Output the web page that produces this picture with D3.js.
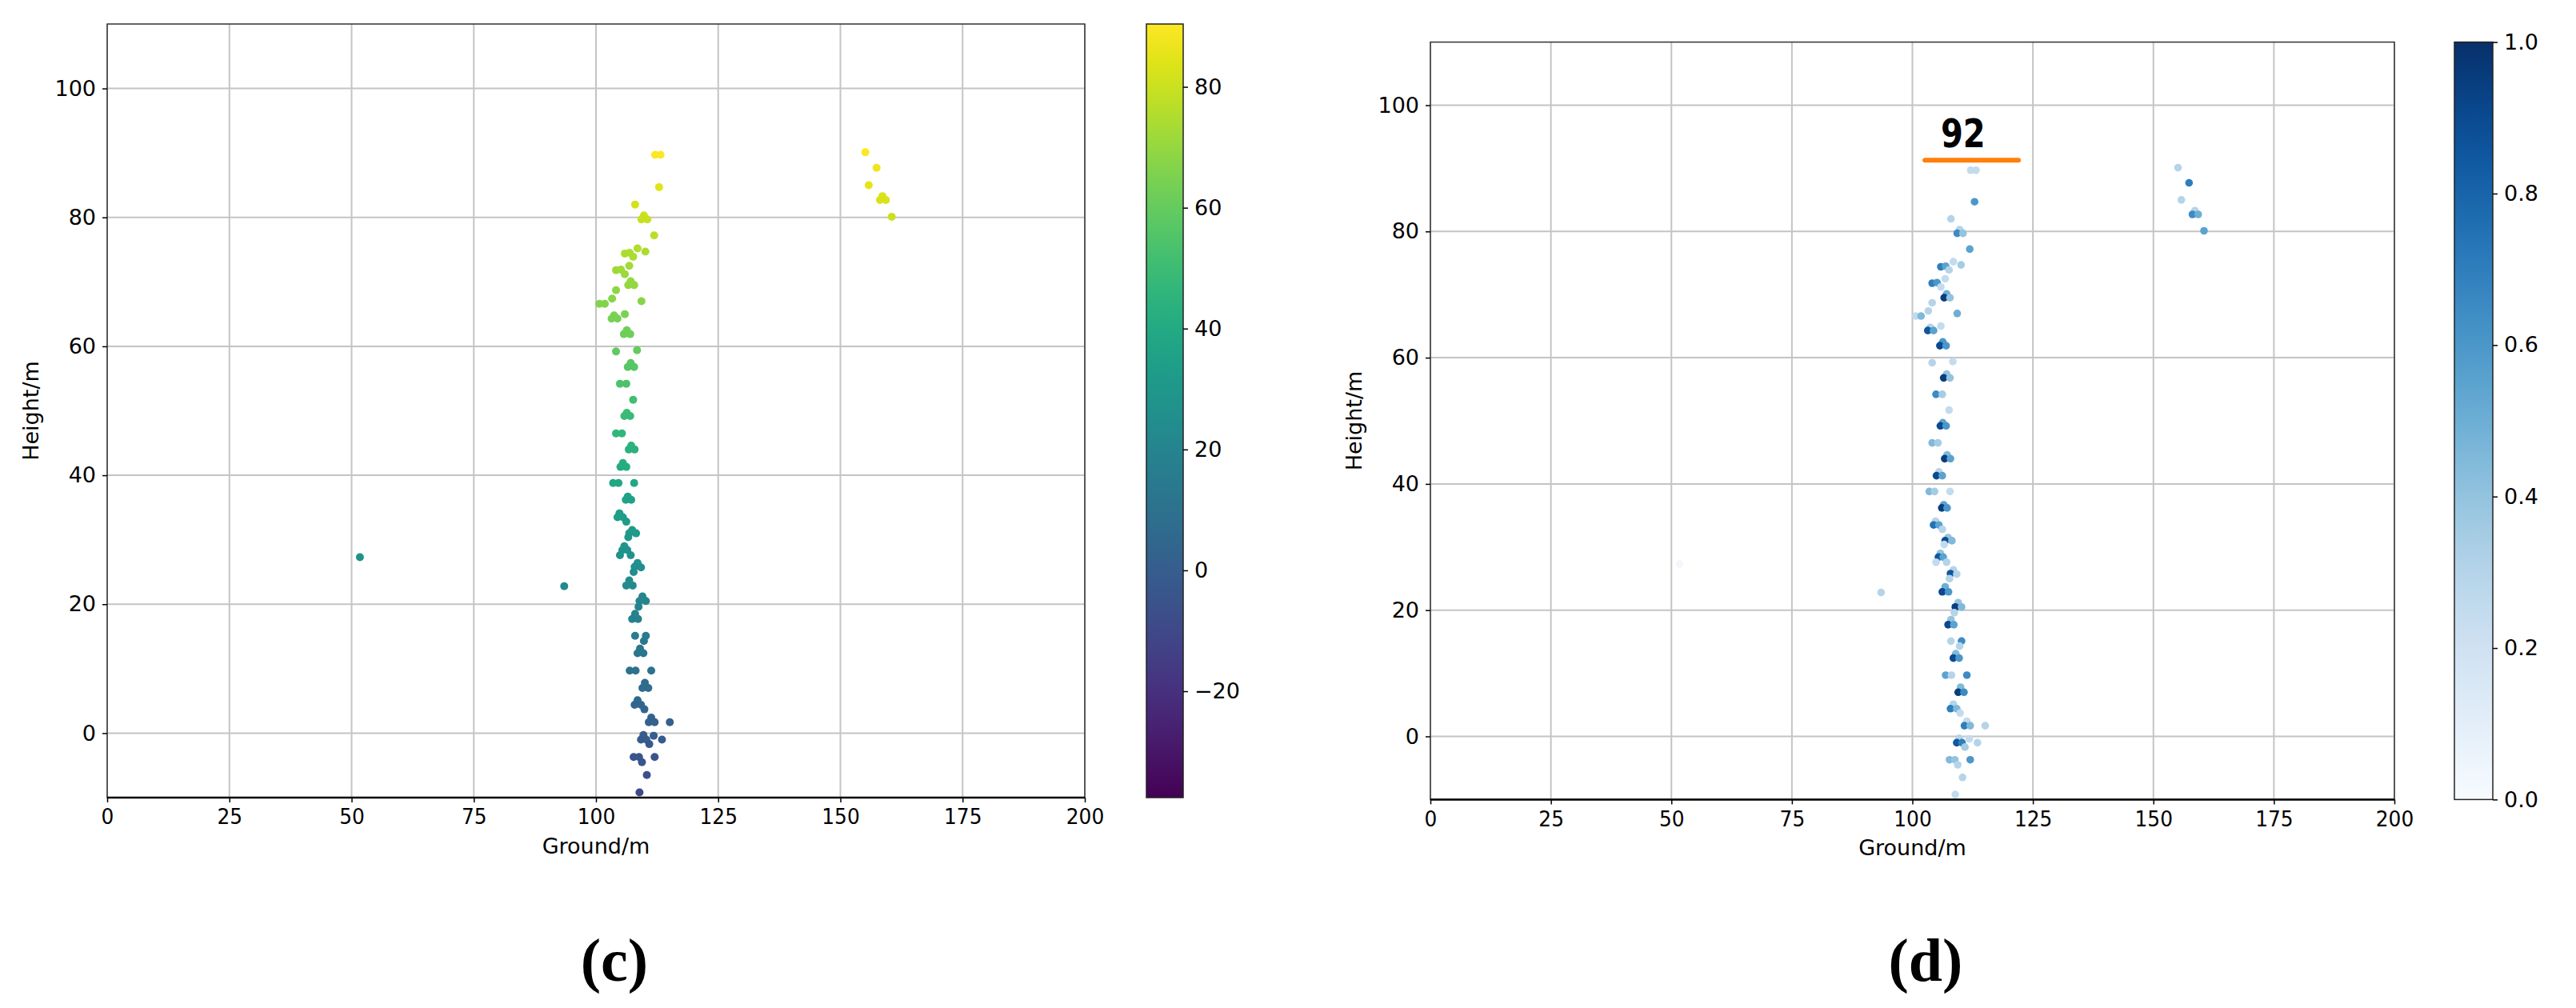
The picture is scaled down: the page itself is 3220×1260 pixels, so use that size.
<!DOCTYPE html>
<html>
<head>
<meta charset="utf-8">
<script src="https://cdn.jsdelivr.net/npm/d3@7"></script>
<style>
html,body{margin:0;padding:0;background:#fff;}
svg{display:block;}
text{fill:#000;}
</style>
</head>
<body>
<svg id="chart" width="3220" height="1260"></svg>
<script>
// ---- data ----
const groundX = [
 112.1,113.2,112.9,108.0,109.8,109.3,110.5,111.9,108.5,110.1,
 105.9,106.9,107.6,106.8,104.1,105.1,105.9,107.1,106.6,107.8,
 104.1,103.3,100.7,101.8,109.3,103.7,103.2,104.4,105.9,106.3,
 105.7,107.0,104.1,108.4,107.1,106.5,107.8,104.9,106.2,107.6,
 106.3,105.8,107.0,104.1,105.3,107.2,106.7,107.9,105.5,105.0,
 106.2,103.5,104.6,107.8,106.5,106.1,107.2,104.8,104.4,105.5,
 106.2,107.4,106.8,108.2,106.6,105.8,105.4,106.4,104.9,107.1,
 51.7,108.5,107.9,109.2,107.7,106.8,106.2,107.5,93.5,109.5,
 108.9,110.2,108.7,108.0,107.4,108.6,108.0,110.2,109.8,109.0,
 108.5,109.7,106.9,108.1,111.3,110.0,109.5,110.7,108.5,107.9,
 109.2,109.9,111.3,110.8,112.0,115.1,109.7,109.2,110.3,111.8,
 113.5,110.9,107.7,108.8,112.0,109.4,110.4,108.9,
 155.1,157.4,155.8,158.6,158.1,159.3,160.5
];
const heightY = [
 89.7,89.7,84.7,82.0,80.3,79.7,79.7,77.2,75.2,74.7,
 74.4,74.5,73.9,72.5,71.8,71.9,71.2,70.1,69.5,69.5,
 68.7,67.4,66.6,66.6,67.0,64.8,64.3,64.3,65.0,62.5,
 61.9,61.9,59.2,59.4,57.4,56.8,56.8,54.2,54.2,51.7,
 49.7,49.2,49.2,46.5,46.5,44.6,44.0,44.0,41.9,41.3,
 41.3,38.8,38.8,38.8,36.7,36.2,36.2,34.1,33.5,33.5,
 32.8,31.5,31.0,31.0,30.4,29.0,28.4,28.4,27.6,27.6,
 27.3,26.4,25.8,25.7,25.0,23.7,22.9,22.9,22.8,21.2,
 20.5,20.5,19.6,18.5,17.7,17.7,15.1,15.1,14.3,13.1,
 12.4,12.4,9.7,9.7,9.7,7.8,7.0,7.0,5.1,4.4,
 4.4,3.7,2.4,1.7,1.7,1.7,-0.3,-1.0,-1.0,-0.4,
 -1.0,-1.7,-3.7,-3.7,-3.7,-4.5,-6.5,-9.2,
 90.1,87.7,85.0,83.3,82.7,82.7,80.1
];
const intensity = [
 0.25,0.25,0.60,0.30,0.30,0.65,0.40,0.55,0.25,0.35,
 0.70,0.55,0.30,0.25,0.70,0.60,0.25,0.50,0.95,0.40,
 0.30,0.30,0.25,0.45,0.50,0.30,0.85,0.55,0.25,0.60,
 0.90,0.60,0.30,0.25,0.40,0.95,0.40,0.65,0.35,0.25,
 0.55,0.90,0.60,0.45,0.35,0.45,0.95,0.55,0.30,0.90,
 0.55,0.45,0.35,0.25,0.55,0.95,0.60,0.30,0.75,0.55,
 0.30,0.40,0.90,0.45,0.25,0.40,0.85,0.55,0.25,0.30,
 0.03,0.30,0.85,0.30,0.30,0.50,0.90,0.60,0.30,0.40,
 0.95,0.45,0.30,0.40,0.90,0.55,0.30,0.65,0.30,0.45,
 0.90,0.60,0.55,0.30,0.65,0.45,0.95,0.65,0.30,0.70,
 0.45,0.25,0.25,0.70,0.45,0.30,0.30,0.85,0.70,0.25,
 0.30,0.35,0.45,0.40,0.60,0.30,0.30,0.25,
 0.30,0.70,0.30,0.30,0.65,0.50,0.55
];
const xTicks = [0,25,50,75,100,125,150,175,200];
const yTicks = [0,20,40,60,80,100];
const heightColorDomain = [-37.6, 90.4];
const heightColorTicks = [-20,0,20,40,60,80];
const intensityDomain = [0, 1];
const intensityTicks = [0,0.2,0.4,0.6,0.8,1.0];
const peakLabel = "92";
const peakLine = {x0:102.6, x1:122.0, y:91.3};
const peakText = {x:110.5, y:93.4};
const xLabel = "Ground/m", yLabel = "Height/m";
const panelLabels = ["(c)", "(d)"];

const points = groundX.map((x,i)=>({x, y:heightY[i], v:intensity[i]}));

const svg = d3.select("#chart");
const SANS = '"DejaVu Sans", sans-serif';

function drawPanel(cfg){
  const g = svg.append("g");
  const x = d3.scaleLinear().domain([0,200]).range([cfg.x0, cfg.x1]);
  const y = d3.scaleLinear().domain([-10,110]).range([cfg.y1, cfg.y0]);
  const id = "clip"+cfg.name;
  svg.append("clipPath").attr("id",id).append("rect")
    .attr("x",cfg.x0).attr("y",cfg.y0).attr("width",cfg.x1-cfg.x0).attr("height",cfg.y1-cfg.y0);
  // grid
  g.append("g").selectAll("line").data(xTicks).join("line")
    .attr("x1",d=>x(d)).attr("x2",d=>x(d)).attr("y1",cfg.y0).attr("y2",cfg.y1)
    .attr("stroke","#c4c4c4").attr("stroke-width",2);
  g.append("g").selectAll("line").data(yTicks).join("line")
    .attr("y1",d=>y(d)).attr("y2",d=>y(d)).attr("x1",cfg.x0).attr("x2",cfg.x1)
    .attr("stroke","#c4c4c4").attr("stroke-width",2);
  // points
  g.append("g").attr("clip-path",`url(#${id})`).selectAll("circle").data(points).join("circle")
    .attr("cx",d=>x(d.x)).attr("cy",d=>y(d.y)).attr("r",cfg.r)
    .attr("fill",d=>cfg.color(d));
  // frame
  g.append("rect").attr("x",cfg.x0).attr("y",cfg.y0).attr("width",cfg.x1-cfg.x0).attr("height",cfg.y1-cfg.y0)
    .attr("fill","none").attr("stroke","#333").attr("stroke-width",1.5);
  g.append("line").attr("x1",cfg.x0).attr("x2",cfg.x1).attr("y1",cfg.y1).attr("y2",cfg.y1)
    .attr("stroke","#000").attr("stroke-width",2.5);
  // axes
  const ax = g.append("g").attr("transform",`translate(0,${cfg.y1})`)
    .call(d3.axisBottom(x).tickValues(xTicks).tickFormat(d3.format("d")).tickSize(6).tickSizeOuter(0).tickPadding(8));
  const ay = g.append("g").attr("transform",`translate(${cfg.x0},0)`)
    .call(d3.axisLeft(y).tickValues(yTicks).tickFormat(d3.format("d")).tickSize(6).tickSizeOuter(0).tickPadding(8));
  [ax,ay].forEach(a=>{
    a.select(".domain").remove();
    a.selectAll(".tick line").attr("stroke","#000").attr("stroke-width",1.5);
    a.selectAll(".tick text").style("font-size","27px").style("font-family",SANS).style("fill","#000");
  });
  ax.selectAll(".tick text").attr("transform","scale(0.92,1)");
  // axis labels
  g.append("text").attr("x",(cfg.x0+cfg.x1)/2).attr("y",cfg.y1+70).attr("text-anchor","middle")
    .style("font-size","27px").style("font-family",SANS).text(xLabel);
  g.append("text").attr("transform",`translate(${cfg.ylabX},${(cfg.y0+cfg.y1)/2}) rotate(-90)`)
    .attr("text-anchor","middle").style("font-size","27px").style("font-family",SANS).text(yLabel);
  // colorbar
  const cb = cfg.cb;
  const cs = d3.scaleLinear().domain(cb.domain).range([cfg.y1, cfg.y0]);
  const gradId = "grad"+cfg.name;
  const grad = svg.append("defs").append("linearGradient").attr("id",gradId)
    .attr("x1",0).attr("y1",1).attr("x2",0).attr("y2",0);
  d3.range(0,1.0001,0.05).forEach(t=>{
    grad.append("stop").attr("offset",t).attr("stop-color",cb.interp(t));
  });
  g.append("rect").attr("x",cb.x).attr("y",cfg.y0).attr("width",cb.w).attr("height",cfg.y1-cfg.y0)
    .attr("fill",`url(#${gradId})`).attr("stroke","#222").attr("stroke-width",1.5);
  const ac = g.append("g").attr("transform",`translate(${cb.x+cb.w},0)`)
    .call(d3.axisRight(cs).tickValues(cb.ticks).tickFormat(cb.fmt).tickSize(6).tickSizeOuter(0).tickPadding(8));
  ac.select(".domain").remove();
  ac.selectAll(".tick line").attr("stroke","#000").attr("stroke-width",1.5);
  ac.selectAll(".tick text").style("font-size","27px").style("font-family",SANS).style("fill","#000");
  // panel label
  svg.append("text").attr("x",cfg.labX).attr("y",1226).attr("text-anchor","middle")
    .style("font-family",'"Liberation Serif", "DejaVu Serif", serif').style("font-weight","bold").style("font-size","76px")
    .text(cfg.label);
  return {x,y,g};
}

drawPanel({name:"c", x0:134, x1:1356, y0:30, y1:997, r:5, ylabX:48,
  color:d=>d3.interpolateViridis((d.y-heightColorDomain[0])/(heightColorDomain[1]-heightColorDomain[0])),
  cb:{x:1433,w:46,domain:heightColorDomain,ticks:heightColorTicks,fmt:d3.format("d"),
      interp:t=>d3.interpolateViridis(t)},
  labX:768, label:panelLabels[0]});

const right = drawPanel({name:"d", x0:1788, x1:2993, y0:52.6, y1:999.4, r:4.8, ylabX:1702,
  color:d=>d3.interpolateBlues(d.v),
  cb:{x:3068,w:48,domain:intensityDomain,ticks:intensityTicks,fmt:d3.format(".1f"),
      interp:t=>d3.interpolateBlues(t)},
  labX:2407, label:panelLabels[1]});

// peak annotation on panel (d)
right.g.append("line")
  .attr("x1",right.x(peakLine.x0)).attr("x2",right.x(peakLine.x1))
  .attr("y1",right.y(peakLine.y)).attr("y2",right.y(peakLine.y))
  .attr("stroke","#ff7f0e").attr("stroke-width",6).attr("stroke-linecap","round");
right.g.append("text")
  .attr("transform",`translate(${right.x(peakText.x)},${right.y(peakText.y)}) scale(0.8,1)`)
  .attr("text-anchor","middle").style("font-family",SANS).style("font-weight","bold").style("font-size","50px")
  .text(peakLabel);
</script>
</body>
</html>
